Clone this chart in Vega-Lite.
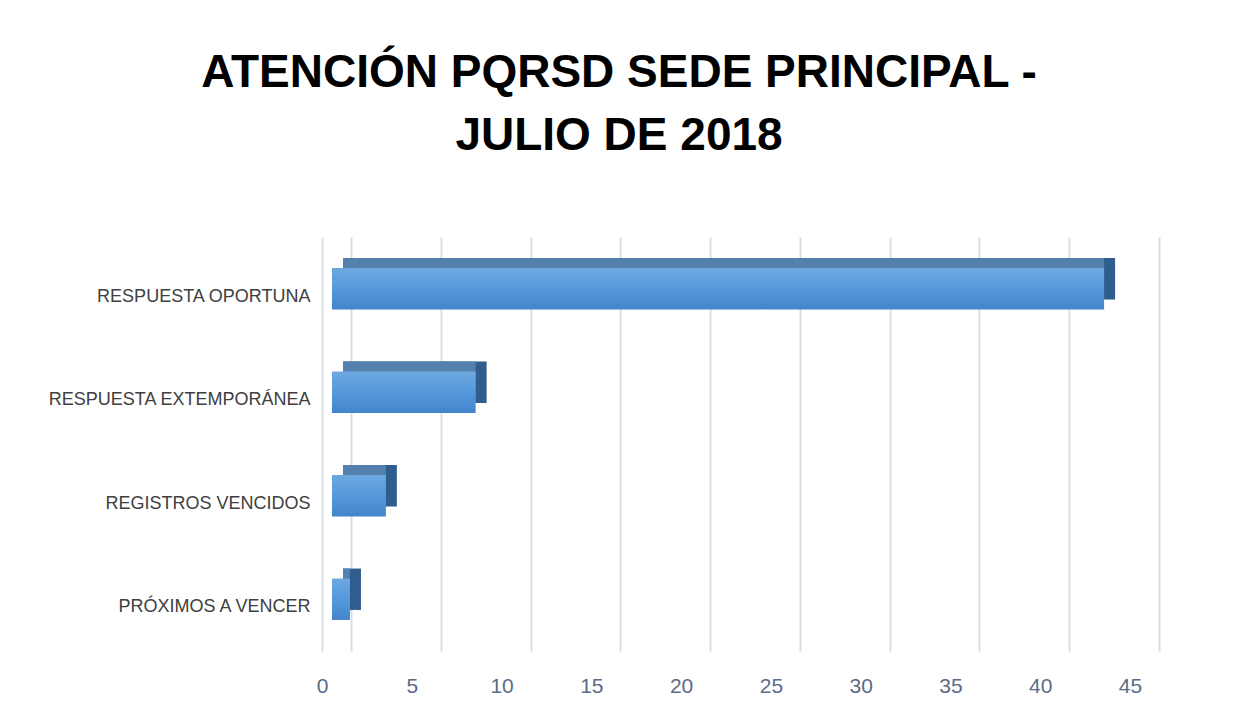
{
  "$schema": "https://vega.github.io/schema/vega-lite/v6.json",
  "autosize": {"type": "none"},
  "padding": {"left": 351, "top": 237, "right": 74, "bottom": 75},
  "width": 808,
  "height": 414,
  "background": "white",
  "config": {"view": {"stroke": null}},
  "title": {
    "text": ["ATENCIÓN PQRSD SEDE PRINCIPAL -", "JULIO DE 2018"],
    "anchor": "middle",
    "dx": -136,
    "offset": 41,
    "baseline": "alphabetic",
    "lineHeight": 63,
    "font": "Liberation Sans",
    "fontSize": 46,
    "fontWeight": "bold",
    "color": "#000000"
  },
  "data": {
    "values": [
      {"categoria": "RESPUESTA OPORTUNA", "cantidad": 43},
      {"categoria": "RESPUESTA EXTEMPORÁNEA", "cantidad": 8},
      {"categoria": "REGISTROS VENCIDOS", "cantidad": 3},
      {"categoria": "PRÓXIMOS A VENCER", "cantidad": 1}
    ]
  },
  "encoding": {
    "y": {
      "field": "categoria",
      "type": "nominal",
      "sort": null,
      "title": null,
      "scale": {"paddingInner": 0.6, "paddingOuter": 0.3},
      "axis": {
        "offset": 29,
        "ticks": false,
        "grid": false,
        "domainColor": "#d9dde8",
        "domainWidth": 2,
        "labelPadding": 12,
        "labelOffset": 8,
        "labelFont": "Liberation Sans",
        "labelFontSize": 18,
        "labelColor": "#404040",
        "labelLimit": 400
      }
    },
    "x": {
      "field": "cantidad",
      "type": "quantitative",
      "title": null,
      "scale": {"domain": [0, 45], "nice": false},
      "axis": {
        "values": [0, 5, 10, 15, 20, 25, 30, 35, 40, 45],
        "grid": true,
        "gridColor": "#d9dde8",
        "gridWidth": 2,
        "domain": false,
        "ticks": false,
        "labelOffset": -29,
        "labelPadding": 24,
        "labelFont": "Liberation Sans",
        "labelFontSize": 21,
        "labelColor": "#5b6b87",
        "labelFlush": false
      }
    }
  },
  "layer": [
    {
      "mark": {"type": "bar", "color": "#2f5d8d", "xOffset": -8, "yOffset": -10}
    },
    {
      "mark": {"type": "bar", "color": "#5380ad", "xOffset": -19, "x2Offset": -8, "yOffset": -10},
      "encoding": {"x2": {"datum": 0}}
    },
    {
      "mark": {
        "type": "bar",
        "xOffset": -19,
        "color": {
          "gradient": "linear",
          "x1": 0, "y1": 0, "x2": 0, "y2": 1,
          "stops": [
            {"offset": 0, "color": "#6ea8e0"},
            {"offset": 0.5, "color": "#5599dc"},
            {"offset": 1, "color": "#4384cb"}
          ]
        }
      }
    }
  ]
}
